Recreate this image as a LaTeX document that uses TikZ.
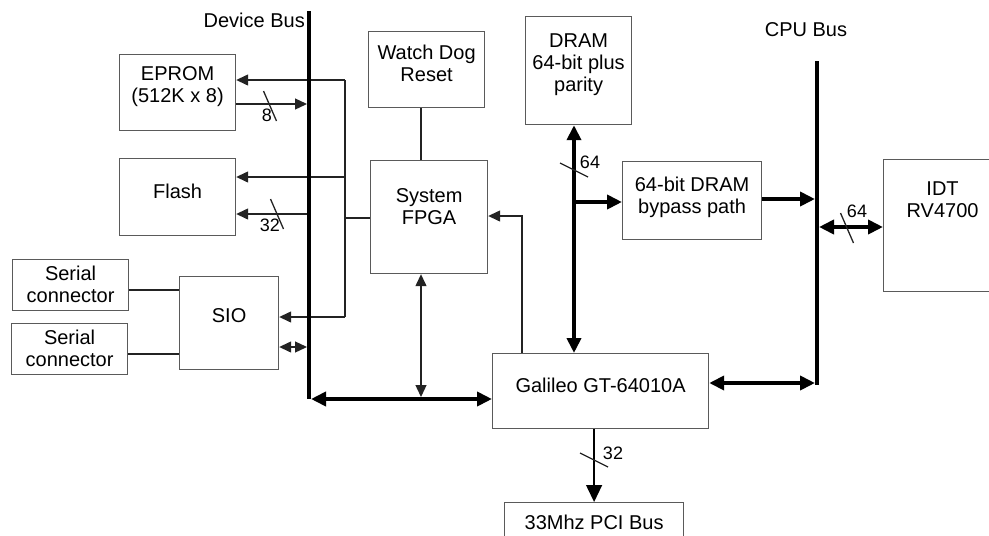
\documentclass[tikz,border=0pt]{standalone}
\usepackage{fontspec}
\setmainfont{Liberation Sans}
\usepackage{xcolor}
\usepackage{tikz}
\usetikzlibrary{arrows.meta}
\definecolor{linegray}{RGB}{35,35,35}
\definecolor{boxgray}{RGB}{90,90,90}
\newcommand{\boxlines}[1]{\begin{tabular}[t]{@{}c@{}}#1\end{tabular}}

\begin{document}
\begin{tikzpicture}[
    x=1pt, y=-1pt,
    font=\fontsize{20}{22}\selectfont,
    block/.style={draw=boxgray, line width=1.2pt, inner sep=0pt, anchor=north west},
    sig/.style={draw=linegray, line width=1.3pt, >={Triangle[length=12pt,width=11pt]}},
    bus/.style={draw=black, line width=4pt, >={Triangle[length=15pt,width=14pt]}},
    buswidth/.style={font=\fontsize{18}{20}\selectfont, inner sep=0pt}
]
    % Sheet
    \useasboundingbox (0,0) rectangle (989,536);
    \clip (0,0) rectangle (989,536);

    % Blocks
    \node[block, minimum width=116pt, text height=26pt, text depth=50pt] (eprom) at (119,54) {\boxlines{EPROM\\(512K x 8)}};
    \node[block, minimum width=116pt, text height=40pt, text depth=37pt] (flash) at (119,158) {Flash};
    \node[block, minimum width=116pt, text height=28pt, text depth=48pt] (watchdog) at (368,31) {\boxlines{Watch Dog\\Reset}};
    \node[block, minimum width=117pt, text height=42pt, text depth=71pt] (fpga) at (370,160) {\boxlines{System\\FPGA}};
    \node[block, minimum width=106pt, text height=31pt, text depth=77pt] (dram) at (525,16) {\boxlines{DRAM\\64-bit plus\\parity}};
    \node[block, minimum width=139pt, text height=30pt, text depth=48pt] (bypass) at (622,161) {\boxlines{64-bit DRAM\\bypass path}};
    \node[block, minimum width=118pt, text height=36pt, text depth=96pt] (idt) at (883,159) {\boxlines{IDT\\RV4700}};
    \node[block, minimum width=99pt, text height=46pt, text depth=47pt] (sio) at (179,276) {SIO};
    \node[block, minimum width=116pt, text height=21pt, text depth=30pt] (serial1) at (12,259) {\boxlines{Serial\\connector}};
    \node[block, minimum width=116pt, text height=21pt, text depth=30pt] (serial2) at (11,323) {\boxlines{Serial\\connector}};
    \node[block, minimum width=216pt, text height=39pt, text depth=36pt] (galileo) at (492,353) {Galileo GT-64010A};
    \node[block, minimum width=179pt, text height=27pt, text depth=20pt] (pci) at (504,502) {33Mhz PCI Bus};

    % Bus ends and labels
    \coordinate (dbtop) at (309,11);
    \coordinate (dbbot) at (309,399);
    \coordinate (cbtop) at (817,61);
    \coordinate (cbbot) at (817,385);
    \node[anchor=base east, inner sep=0pt] (dblabel) at (305,27) {Device Bus};
    \node[anchor=base, inner sep=0pt] (cblabel) at (806,36) {CPU Bus};

    % Control lines from the FPGA
    \coordinate (ctltop) at (345,80);
    \coordinate (ctlflash) at (345,177);
    \coordinate (ctlfpga) at (345,218);
    \coordinate (ctlbot) at (345,317);
    \draw[sig] (ctltop) -- (ctlbot);
    \draw[sig, ->] (ctltop) -- (ctltop -| eprom.east);
    \draw[sig, ->] (ctlflash) -- (ctlflash -| flash.east);
    \draw[sig] (ctlfpga) -- (ctlfpga -| fpga.west);
    \draw[sig, ->] (ctlbot) -- (ctlbot -| sio.east);

    % Device bus links
    \coordinate (db8) at (309,104);
    \coordinate (db32) at (309,214);
    \coordinate (dbsio) at (309,347);
    \coordinate (fpgajoin) at (421,399);
    \draw[sig, ->, shorten >=2pt] (db8 -| eprom.east) -- (db8);
    \draw[sig, ->, shorten <=2pt] (db32) -- (db32 -| flash.east);
    \draw[sig, <->, shorten >=2pt] (dbsio -| sio.east) -- (dbsio);
    \draw[sig] (watchdog.south -| fpgajoin) -- (fpga.north -| fpgajoin);
    \draw[sig, <->, shorten >=2pt] (fpga.south -| fpgajoin) -- (fpgajoin);
    \draw[bus, <->, shorten <=2pt] (dbbot) -- (dbbot -| galileo.west);

    % Serial lines
    \coordinate (ser1) at (179,290);
    \coordinate (ser2) at (179,354);
    \draw[sig] (ser1 -| serial1.east) -- (ser1);
    \draw[sig] (ser2 -| serial2.east) -- (ser2);

    % Galileo and CPU bus links
    \coordinate (galfp) at (522,216);
    \coordinate (dramln) at (574,202);
    \coordinate (cpubp) at (817,199);
    \coordinate (cpuidt) at (817,227);
    \coordinate (cpugal) at (817,383);
    \draw[sig, ->] (galileo.north -| galfp) -- (galfp) -- (galfp -| fpga.east);
    \draw[bus, <->] (dram.south -| dramln) -- (galileo.north -| dramln);
    \draw[bus, ->] (dramln) -- (dramln -| bypass.west);
    \draw[bus, ->, shorten >=2pt] (cpubp -| bypass.east) -- (cpubp);
    \draw[bus, <->, shorten <=2pt] (cpuidt) -- (cpuidt -| idt.west);
    \draw[bus, <->, shorten >=2pt] (cpugal -| galileo.east) -- (cpugal);
    \draw[sig, draw=black, -{Triangle[length=17pt,width=16pt]}] (galileo.south -| pci.north) -- (pci.north);

    % Width marks
    \foreach \x/\y in {270/106, 277/214, 847/228} {
        \draw[sig] (\x-6.5,\y-15) -- (\x+6.5,\y+15);
    }
    \foreach \x/\y in {574/170, 594/460} {
        \draw[sig] (\x-14,\y-7) -- (\x+14,\y+7);
    }
    \node[buswidth] (w8) at (267,115) {8};
    \node[buswidth] (w32a) at (270,225) {32};
    \node[buswidth] (w64a) at (590,162) {64};
    \node[buswidth] (w64b) at (857,211) {64};
    \node[buswidth] (w32b) at (613,453) {32};

    % Buses
    \draw[bus] (dbtop) -- (dbbot);
    \draw[bus] (cbtop) -- (cbbot);
\end{tikzpicture}
\end{document}
